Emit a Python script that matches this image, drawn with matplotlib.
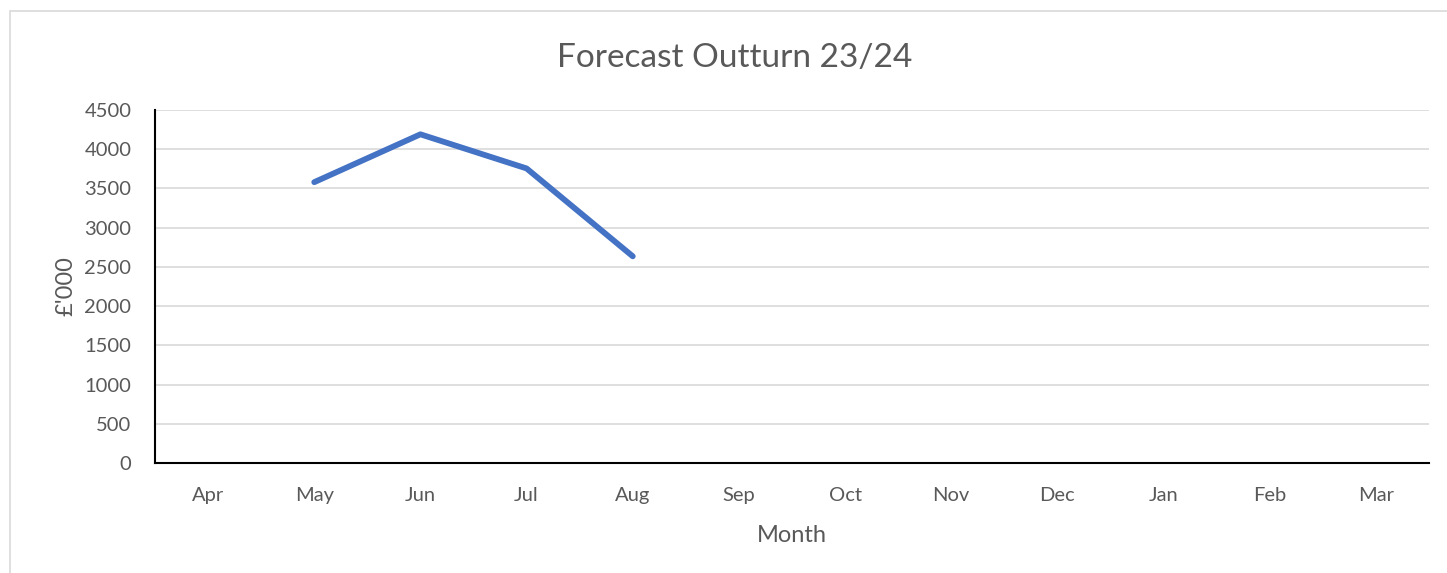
import matplotlib
matplotlib.use("Agg")
import matplotlib.pyplot as plt
from matplotlib.patches import Rectangle

months = ["Apr", "May", "Jun", "Jul", "Aug", "Sep", "Oct", "Nov", "Dec", "Jan", "Feb", "Mar"]
forecast_months = ["May", "Jun", "Jul", "Aug"]
forecast_values = [3580, 4190, 3755, 2635]
y_ticks = [0, 500, 1000, 1500, 2000, 2500, 3000, 3500, 4000, 4500]

plt.rcParams['font.family'] = ['Lato', 'DejaVu Sans']
W, H = 1447, 573
fig = plt.figure(figsize=(W/100, H/100), dpi=100)
fig.patches.append(Rectangle((10/W, -0.1), 1.2, 1.1 - 11/H, transform=fig.transFigure,
                             fill=False, edgecolor="#D9D9D9", linewidth=1.2))
ax = fig.add_axes([155/W, 1 - 463/H, (1429-155)/W, (463-110)/H])

xs = [months.index(m) for m in forecast_months]
ax.plot(xs, forecast_values, color="#4472C4", linewidth=4.2, solid_capstyle="round", solid_joinstyle="round")

ax.set_xlim(-0.5, len(months) - 0.5)
ax.set_ylim(0, 4500)
ax.set_yticks(y_ticks)
ax.set_xticks(range(len(months)))
ax.set_xticklabels(months)
ax.yaxis.grid(True, color="#D9D9D9", linewidth=1.2)
ax.set_axisbelow(True)
for s in ["top", "right"]:
    ax.spines[s].set_visible(False)
for s in ["left", "bottom"]:
    ax.spines[s].set_color("black")
    ax.spines[s].set_linewidth(1.5)
ax.tick_params(axis="both", length=0, labelsize=14.5, colors="#595959")
ax.tick_params(axis="x", pad=17.5)
ax.tick_params(axis="y", pad=17)
ax.set_xlabel("Month", fontsize=17, color="#595959", labelpad=15)
ax.set_ylabel("£'000", fontsize=17, color="#595959", labelpad=6)
fig.text(735/W, 1 - 58/H, "Forecast Outturn 23/24", ha="center", va="center", fontsize=24, color="#595959")

fig.savefig("out.png", dpi=100)
